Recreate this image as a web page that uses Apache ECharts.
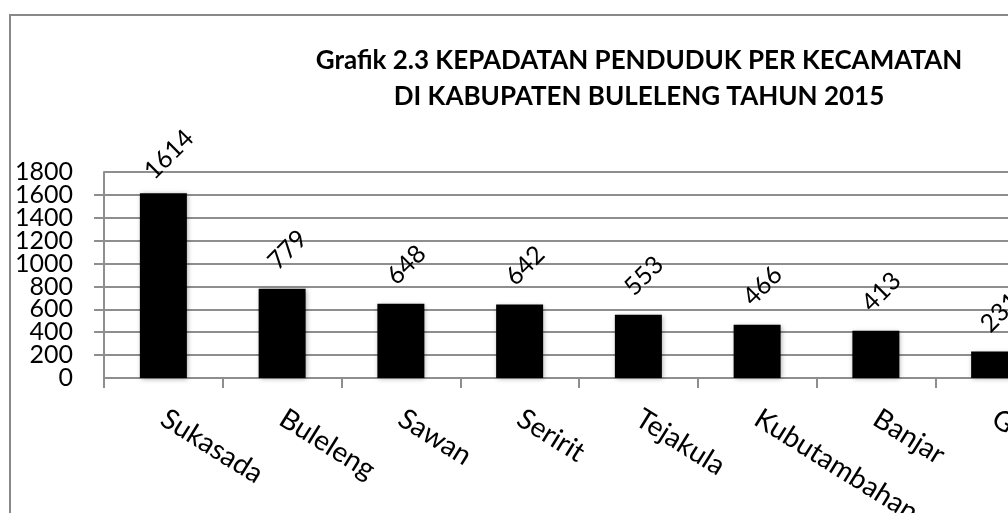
<!DOCTYPE html>
<html>
<head>
<meta charset="utf-8">
<script src="https://cdn.jsdelivr.net/npm/echarts@6/dist/echarts.min.js"></script>
<style>
    html, body { margin: 0; padding: 0; background: #fff; }
    #chart { width: 1008px; height: 513px; }
</style>
</head>
<body>
<div id="chart"></div>
<script>
    // kepadatan penduduk per kecamatan (jiwa/km2)
    var kecamatan = ['Sukasada', 'Buleleng', 'Sawan', 'Seririt', 'Tejakula', 'Kubutambahan', 'Banjar', 'Gerokgak'];
    var kepadatan = [1614, 779, 648, 642, 553, 466, 413, 231];
    var yTicks = [0, 200, 400, 600, 800, 1000, 1200, 1400, 1600, 1800];

    var gridColor = '#8e8e8e';
    var fontFam = 'Lato, "Open Sans", sans-serif';
    var yMin = yTicks[0], yMax = yTicks[yTicks.length - 1];

    var yLabelStyle = {
        margin: 31,
        fontFamily: fontFam,
        fontSize: 25,
        color: '#000'
    };

    var myChart = echarts.init(document.getElementById('chart'));
    myChart.setOption({
        animation: false,
        graphic: [{
            type: 'rect',
            shape: { x: 10, y: 15, width: 1100, height: 600 },
            style: { fill: 'none', stroke: '#888888', lineWidth: 2 },
            silent: true
        }],
        title: {
            text: 'Grafik 2.3 KEPADATAN PENDUDUK PER KECAMATAN\nDI KABUPATEN BULELENG TAHUN 2015',
            left: 634,
            top: 38,
            textAlign: 'center',
            textStyle: {
                fontFamily: fontFam,
                fontWeight: 'bold',
                fontSize: 26,
                lineHeight: 36,
                color: '#000'
            }
        },
        grid: {
            left: 104,
            top: 172,
            width: 950,
            height: 206,
            containLabel: false,
            outerBoundsMode: 'none'
        },
        xAxis: {
            type: 'category',
            data: kecamatan,
            axisLine: { lineStyle: { color: gridColor, width: 2 } },
            axisTick: { show: true, length: 10, interval: 0, lineStyle: { color: gridColor, width: 2 } },
            axisLabel: {
                interval: 0,
                rotate: -32,
                margin: 38,
                hideOverlap: false,
                fontFamily: fontFam,
                fontSize: 28,
                color: '#000'
            }
        },
        // two left axes so that the tightly packed labels are not dropped
        yAxis: [{
            type: 'value',
            min: yMin,
            max: yMax,
            interval: 200,
            axisLine: { show: true, lineStyle: { color: gridColor, width: 2 } },
            axisTick: { show: true, length: 10, lineStyle: { color: gridColor, width: 2 } },
            splitLine: { show: true, lineStyle: { color: gridColor, width: 2 } },
            axisLabel: Object.assign({
                showMinLabel: false,
                showMaxLabel: false,
                formatter: function (v) { return String(v); }
            }, yLabelStyle)
        }, {
            type: 'value',
            position: 'left',
            min: yMin,
            max: yMax,
            interval: 200,
            axisLine: { show: false },
            axisTick: { show: false },
            splitLine: { show: false },
            axisLabel: Object.assign({
                showMinLabel: true,
                showMaxLabel: true,
                formatter: function (v) { return (v === yMin || v === yMax) ? String(v) : ''; }
            }, yLabelStyle)
        }],
        series: [{
            type: 'bar',
            data: kepadatan,
            barWidth: 47,
            itemStyle: {
                color: '#000',
                shadowBlur: 5,
                shadowColor: 'rgba(0,0,0,0.35)',
                shadowOffsetX: 1,
                shadowOffsetY: 1
            },
            label: {
                show: true,
                position: 'top',
                distance: 36,
                rotate: 45,
                align: 'center',
                verticalAlign: 'middle',
                offset: [6, 2],
                fontFamily: fontFam,
                fontSize: 25,
                color: '#000'
            }
        }]
    });
    window.addEventListener('resize', function () {
        myChart.resize();
    });
</script>
</body>
</html>
